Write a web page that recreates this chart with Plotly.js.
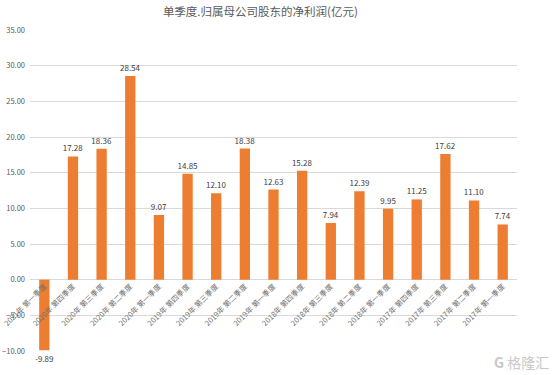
<!DOCTYPE html>
<html>
<head>
<meta charset="utf-8">
<script src="https://cdn.plot.ly/plotly-3.0.1.min.js"></script>
<style>html,body{margin:0;padding:0;background:#fff;}#chart{width:554px;height:375px;}</style>
</head>
<body>
<div id="chart"></div>
<script>
const categories = ["2021年 第一季度","2020年 第四季度","2020年 第三季度","2020年 第二季度","2020年 第一季度","2019年 第四季度","2019年 第三季度","2019年 第二季度","2019年 第一季度","2018年 第四季度","2018年 第三季度","2018年 第二季度","2018年 第一季度","2017年 第四季度","2017年 第三季度","2017年 第二季度","2017年 第一季度"];
const values = [-9.89, 17.28, 18.36, 28.54, 9.07, 14.85, 12.10, 18.38, 12.63, 15.28, 7.94, 12.39, 9.95, 11.25, 17.62, 11.10, 7.74];
const titleText = "单季度.归属母公司股东的净利润(亿元)";
const yMin = -10, yMax = 35;

const cjk = '"Noto Sans CJK SC", "Noto Sans", sans-serif';
const trace = {
  type: 'bar',
  x: categories,
  y: values,
  width: 0.36,
  marker: {color: '#ED7D31'},
  text: values.map(v => v.toFixed(2)),
  textposition: 'outside',
  constraintext: 'none',
  cliponaxis: false,
  textfont: {family: cjk, size: 8, color: '#404040'},
  outsidetextfont: {family: cjk, size: 8, color: '#404040'},
  hoverinfo: 'none'
};
const layout = {
  width: 554, height: 375,
  margin: {l: 30, r: 37, t: 30, b: 24, pad: 0},
  paper_bgcolor: '#fff', plot_bgcolor: '#fff',
  showlegend: false,
  title: {text: titleText, font: {family: cjk, size: 11.5, color: '#595959'}, x: 0.47, xanchor: 'center', y: 0.968, yanchor: 'middle'},
  xaxis: {
    type: 'category',
    anchor: 'free',
    position: (0 - yMin) / (yMax - yMin),
    tickangle: -45,
    tickfont: {family: cjk, size: 7.5, color: '#707070'},
    showgrid: false, showline: false, zeroline: false, ticks: ''
  },
  yaxis: {
    range: [yMin, yMax],
    dtick: 5,
    tickformat: '.2f',
    tickfont: {family: cjk, size: 7.5, color: '#595959'},
    gridcolor: '#D9D9D9', gridwidth: 1,
    zeroline: true, zerolinecolor: '#D9D9D9', zerolinewidth: 1,
    showline: false, ticks: '', ticklabelstandoff: 4
  },
  annotations: [{
    xref: 'paper', yref: 'paper', x: 1.07, y: -0.035, xanchor: 'right', yanchor: 'middle',
    text: '<b>G</b> 格隆汇', showarrow: false,
    font: {family: cjk, size: 14, color: '#C8C8C8'}
  }]
};
Plotly.newPlot('chart', [trace], layout, {staticPlot: true});
</script>
</body>
</html>
